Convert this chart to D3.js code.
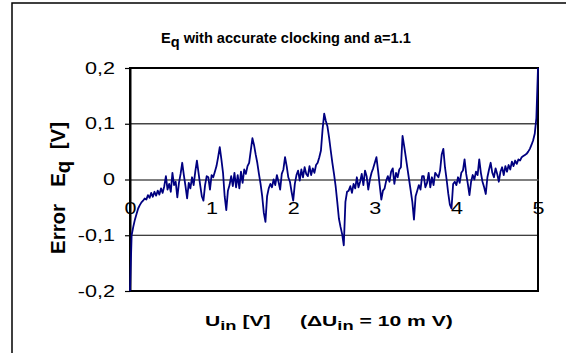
<!DOCTYPE html>
<html><head><meta charset="utf-8">
<script src="https://cdn.jsdelivr.net/npm/d3@7"></script>
<style>html,body{margin:0;padding:0;background:#fff;overflow:hidden}</style>
</head><body><svg id="chart" width="566" height="353"></svg>
<script>
// ---- data ----
const xTicks = [0, 1, 2, 3, 4, 5];
const xTickLabels = ["0", "1", "2", "3", "4", "5"];
const yTicks = [-0.2, -0.1, 0, 0.1, 0.2];
const yTickLabels = ["-0,2", "-0,1", "0", "0,1", "0,2"];
const stepV = 0.02; // sampling grid of U_in [V]
const errorEq = [
  -0.200, -0.100, -0.085, -0.072, -0.062, -0.052, -0.046, -0.041, -0.038, -0.034,
  -0.036, -0.028, -0.033, -0.024, -0.031, -0.022, -0.029, -0.020, -0.027, -0.016,
  -0.024, -0.012,  0.006, -0.018, -0.008, -0.022,  0.012, -0.010, -0.004, -0.032,
  -0.006,  0.010,  0.030,  0.008, -0.012, -0.034, -0.006, -0.016,  0.004, -0.010,
   0.014,  0.034,  0.012, -0.010, -0.030, -0.038, -0.010,  0.006,  0.004, -0.018,
   0.008,  0.004,  0.014,  0.024,  0.040,  0.058,  0.036,  0.012, -0.030, -0.055,
  -0.020, -0.010,  0.006, -0.012,  0.012, -0.014,  0.008, -0.016,  0.014, -0.006,
   0.018,  0.010,  0.024,  0.030,  0.052,  0.074,  0.062,  0.045,  0.030,  0.010,
  -0.008, -0.030, -0.060, -0.076, -0.030, -0.016, -0.008, -0.014,  0.000, -0.010,
   0.008, -0.004, -0.018,  0.010,  0.018,  0.040,  0.024,  0.004, -0.004, -0.022,
  -0.038, -0.008,  0.008,  0.016, -0.002,  0.018,  0.004,  0.022,  0.010,  0.006,
   0.024,  0.008,  0.020,  0.012,  0.026,  0.030,  0.040,  0.052,  0.090,  0.118,
   0.105,  0.095,  0.075,  0.052,  0.030,  0.010, -0.012, -0.040, -0.070, -0.085,
  -0.098, -0.118, -0.040, -0.022, -0.020, -0.012, -0.024, -0.008, -0.016,  0.004,
  -0.014, -0.004,  0.010, -0.010,  0.016,  0.006, -0.018,  0.000,  0.012,  0.020,
   0.030,  0.040,  0.016, -0.010, -0.036, -0.020, -0.016, -0.002,  0.006, -0.004,
   0.014,  0.020, -0.008,  0.012,  0.004,  0.018,  0.022,  0.078,  0.060,  0.040,
   0.020,  0.000, -0.020, -0.040, -0.072, -0.030, -0.020, -0.010, -0.018,  0.006,
   0.006, -0.014, -0.006,  0.012, -0.014,  0.004, -0.010,  0.012,  0.008,  0.004,
   0.016,  0.045,  0.055,  0.022,  0.000, -0.025, -0.045, -0.052, -0.008, -0.004,
  -0.010,  0.004, -0.006,  0.012,  0.016,  0.036,  0.010, -0.008, -0.028, -0.004,
   0.008,  0.000,  0.014,  0.008,  0.036,  0.012, -0.004, -0.014, -0.026,  0.004,
   0.018,  0.030,  0.012,  0.004,  0.020,  0.010, -0.004,  0.014,  0.022,  0.008,
   0.024,  0.014,  0.026,  0.018,  0.032,  0.024,  0.034,  0.028,  0.036,  0.034,
   0.040,  0.042,  0.044,  0.046,  0.050,  0.055,  0.062,  0.070,  0.082,  0.110,
   0.200
];
const uIn = errorEq.map((_, i) => +(i * stepV).toFixed(2));

// ---- layout ----
const FONT = "'Liberation Sans', Arial, sans-serif";
const SX = 1.35; // horizontal glyph stretch of the original rendering
const svg = d3.select("#chart");
const x = d3.scaleLinear().domain([0, 5]).range([130, 538]);
const y = d3.scaleLinear().domain([-0.2, 0.2]).range([291, 68]);

// outer chart border
svg.append("rect").attr("x", 12).attr("y", 3).attr("width", 620).attr("height", 420)
  .attr("fill", "none").attr("stroke", "#000").attr("stroke-width", 1.5);

// gridlines
svg.append("g").selectAll("line").data(yTicks.filter(d => d > -0.2 && d < 0.2 && d !== 0)).join("line")
  .attr("x1", x(0)).attr("x2", x(5)).attr("y1", d => y(d)).attr("y2", d => y(d))
  .attr("stroke", d => d > 0 ? "#444" : "#000").attr("stroke-width", d => d > 0 ? 1.4 : 1);

// plot border
svg.append("rect").attr("x", x(0)).attr("y", y(0.2)).attr("width", x(5) - x(0)).attr("height", y(-0.2) - y(0.2))
  .attr("fill", "none").attr("stroke", "#000").attr("stroke-width", 2);

// x axis at zero
const xAxis = svg.append("g").attr("transform", `translate(0,${y(0)})`)
  .call(d3.axisBottom(x).tickValues(xTicks).tickFormat((d, i) => xTickLabels[i]).tickSize(0).tickSizeOuter(0));
xAxis.select(".domain").attr("stroke", "#555").attr("stroke-width", 1.4);
xAxis.selectAll("text").attr("font-family", FONT).attr("font-size", 16).attr("fill", "#000")
  .attr("y", 23.5).attr("transform", `scale(${SX},1)`);

// y axis
const yAxis = svg.append("g").attr("transform", `translate(${x(0)},0)`)
  .call(d3.axisLeft(y).tickValues(yTicks).tickFormat((d, i) => yTickLabels[i]).tickSize(5).tickSizeOuter(0));
yAxis.select(".domain").attr("stroke", "#000").attr("stroke-width", 2);
yAxis.selectAll(".tick line").attr("stroke", "#000").attr("stroke-width", 1.2);
yAxis.selectAll("text").attr("font-family", FONT).attr("font-size", 16).attr("fill", "#000")
  .attr("x", -15 / SX).attr("transform", `scale(${SX},1)`);

// data line
const line = d3.line().x((d, i) => x(uIn[i])).y(d => y(d));
svg.append("path").datum(errorEq).attr("d", line)
  .attr("fill", "none").attr("stroke", "#000080").attr("stroke-width", 1.8)
  .attr("stroke-linejoin", "round");

// helper for stretched text fitted to a target width
function fitText(gx, gy, targetW, build, opts = {}) {
  const g = svg.append("g");
  const t = g.append("text").attr("font-family", FONT).attr("font-weight", "bold")
    .attr("font-size", opts.size || 15).attr("fill", "#000").style("white-space", "pre");
  build(t);
  const w = t.node().getBBox().width;
  const s = targetW / w;
  if (opts.rotate) {
    t.attr("text-anchor", "middle");
    g.attr("transform", `translate(${gx},${gy}) scale(${opts.glyph || SX},${s}) rotate(-90)`);
  } else {
    g.attr("transform", `translate(${gx},${gy}) scale(${s},1)`);
  }
}

// title
fitText(161, 43, 250, t => {
  t.append("tspan").text("E");
  t.append("tspan").attr("dy", 4).text("q");
  t.append("tspan").attr("dy", -4).text(" with accurate clocking and a=1.1");
}, { size: 15 });

// x-axis title
fitText(205, 326, 248, t => {
  t.append("tspan").text("U");
  t.append("tspan").attr("dy", 4).attr("font-size", 13).text("in");
  t.append("tspan").attr("dy", -4).text(" [V]     (\u0394U");
  t.append("tspan").attr("dy", 4).attr("font-size", 13).text("in");
  t.append("tspan").attr("dy", -4).text(" = 10 m V)");
}, { size: 15 });

// y-axis title
fitText(65, 188, 132, t => {
  t.append("tspan").text("Error   E");
  t.append("tspan").attr("dy", 4).text("q");
  t.append("tspan").attr("dy", -4).text("  [V]");
}, { size: 15, rotate: true, glyph: 1.3 });
</script>
</body></html>
